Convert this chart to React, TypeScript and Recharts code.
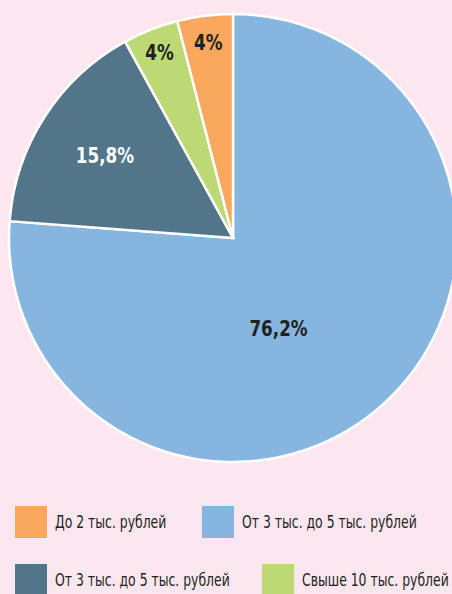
import { PieChart, Pie, Cell, Legend } from "recharts"

// доли по категориям (порядок по часовой стрелке от 12 часов)
const categories = ["От 3 тыс. до 5 тыс. рублей", "От 3 тыс. до 5 тыс. рублей ", "Свыше 10 тыс. рублей", "До 2 тыс. рублей"]
const shares = [76.2, 15.8, 4, 4]
const labels = ["76,2%", "15,8%", "4%", "4%"]
const colors = ["#86b6e0", "#527589", "#bcd975", "#f9a85e"]
// порядок в легенде
const legendOrder = [3, 0, 1, 2]

const data = categories.map((name, i) => ({ name, value: shares[i], label: labels[i] }))

const FONT = "'DejaVu Sans', sans-serif"

// радиус подписи в долях от внешнего радиуса и поворот
const labelRadius = [0.45, 0.68, 0.89, 0.88]
const labelAngleShift = [-16, 0, 0, 0]
const labelColor = ["#231f20", "#ffffff", "#231f20", "#231f20"]

const RAD = Math.PI / 180

function renderLabel(props: any) {
  const { cx, cy, midAngle, outerRadius, index } = props
  const r = outerRadius * labelRadius[index]
  const a = midAngle + labelAngleShift[index]
  const x = cx + r * Math.cos(-a * RAD)
  const y = cy + r * Math.sin(-a * RAD)
  // сжимаем по горизонтали, чтобы было похоже на узкий шрифт
  return (
    <text
      transform={`translate(${x},${y}) scale(0.8,1)`}
      x={0}
      y={0}
      textAnchor="middle"
      dominantBaseline="central"
      fill={labelColor[index]}
      style={{ fontFamily: FONT, fontWeight: 700, fontSize: 21 }}
    >
      {data[index].label}
    </text>
  )
}

function LegendBox() {
  const rows = [legendOrder.slice(0, 2), legendOrder.slice(2, 4)]
  const itemLeft = [187, 247]
  return (
    <div style={{ fontFamily: FONT, fontSize: 17, color: "#231f20" }}>
      {rows.map((row, ri) => (
        <div key={ri} style={{ position: "relative", height: 32, marginBottom: 26 }}>
          {row.map((idx, k) => (
            <div
              key={idx}
              style={{ position: "absolute", top: 0, left: k === 0 ? 0 : itemLeft[ri], display: "flex", alignItems: "center", height: 32 }}
            >
              <span style={{ display: "inline-block", flex: "none", width: 32, height: 32, background: colors[idx], marginRight: 8 }} />
              <span style={{ display: "inline-block", whiteSpace: "nowrap", transform: "scaleX(0.73)", transformOrigin: "left center" }}>
                {categories[idx].trim()}
              </span>
            </div>
          ))}
        </div>
      ))}
    </div>
  )
}

export default function App() {
  return (
    <div style={{ position: "fixed", left: 0, top: 0, width: 452, height: 594, background: "#fce7f0", overflow: "hidden" }}>
      <PieChart width={452} height={594} margin={{ top: 0, right: 0, bottom: 0, left: 0 }}>
        <Pie
          data={data}
          dataKey="value"
          nameKey="name"
          cx={233}
          cy={238}
          outerRadius={224}
          startAngle={90}
          endAngle={-270}
          stroke="#ffffff"
          strokeWidth={2.5}
          label={renderLabel}
          labelLine={false}
          isAnimationActive={false}
        >
          {data.map((d, i) => (
            <Cell key={i} fill={colors[i]} />
          ))}
        </Pie>
        <Legend
          content={<LegendBox />}
          wrapperStyle={{ position: "absolute", left: 15, top: 506, width: 437 }}
        />
      </PieChart>
    </div>
  )
}
